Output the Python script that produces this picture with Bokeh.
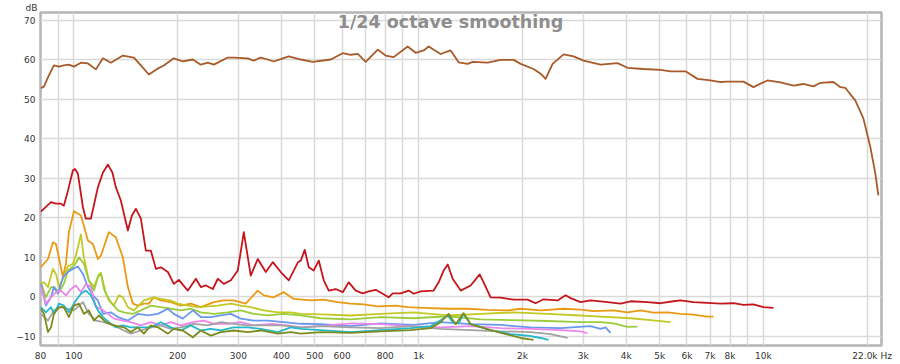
from bokeh.plotting import figure
from bokeh.models import FixedTicker, Label
from bokeh.embed import file_html
from bokeh.resources import INLINE

# ---------------- data (Hz, dB) ----------------
fund_hz = [80.2, 81.9, 84.6, 87.5, 90.5, 93.5, 96.7, 100, 104.8, 109.8, 115.8, 121.4, 128, 138.7, 149.3,
           156.4, 165, 175.2, 182.3, 194.9, 207, 221.3, 233.4, 244.6, 254.6, 279.5, 290.9, 319.4, 332.4,
           348.3, 365, 380, 403.5, 420, 455, 493, 556, 602, 635, 666, 702, 761, 802, 846, 929, 980,
           1034, 1069, 1158, 1238, 1306, 1387, 1434, 1585, 1729, 1886, 1976, 2154, 2258, 2334, 2446,
           2632, 2814, 3008, 3370, 3774, 4035, 4489, 5029, 5376, 5942, 6437, 7020, 7506, 7864, 8750,
           9354, 10270, 11202, 12218, 13058, 13960, 14631, 15955, 16720, 17288, 18479, 19493, 20424,
           21115, 21544]
fund_db = [52.7, 53.2, 56.0, 58.5, 58.2, 58.5, 58.7, 58.2, 59.2, 59.0, 57.5, 60.3, 59.2, 61.0, 60.5,
           58.5, 56.2, 57.7, 58.5, 60.3, 59.5, 60.0, 58.7, 59.2, 58.7, 60.5, 60.5, 60.3, 59.7,
           60.5, 60.0, 59.5, 60.3, 60.8, 60.0, 59.4, 60.0, 61.6, 61.2, 61.4, 59.4, 62.5, 61.0, 60.6, 63.3, 61.7,
           62.3, 63.3, 61.4, 62.3, 59.3, 58.9, 59.4, 59.2, 59.9, 59.9, 58.9, 57.6, 56.4, 55.1, 58.9,
           61.3, 60.8, 59.7, 58.7, 59.1, 57.9, 57.6, 57.4, 57.0, 57.0, 55.1, 54.7, 54.3, 54.4, 54.4,
           53.0, 54.7, 54.2, 53.4, 53.8, 53.2, 54.1, 54.3, 53.0, 52.8, 49.6, 45.1, 37.8,
           31.1, 25.6]

h2_hz = [80.2, 85.8, 88.7, 91.7, 93.5, 96.1, 99.3, 100.7, 102.7, 106.2, 108.3, 112, 117.4, 121.4, 125.5,
         129.3, 132.3, 136.8, 143.4, 147.3, 151.3, 156.4, 161.7, 167.2, 172.9, 178.7, 187.3, 194.9, 201.5,
         214, 225.8, 233.4, 241.4, 252.9, 261.5, 272.2, 285.2, 298.8, 311, 325.8, 341.4, 360.2, 377.4,
         398.1, 420, 446, 455, 467.3, 480, 496.3, 513.1, 530.5, 548.5, 574.7, 602.3, 626.8, 656.8,
         688.2, 716.3, 750.6, 786.4, 818.4, 840.6, 886.7, 935.4, 967.2, 1013, 1105, 1143, 1182, 1214,
         1255, 1324, 1415, 1503, 1543, 1617, 1729, 1886, 2070, 2183, 2303, 2529, 2668, 2758, 2948,
         3152, 3531, 3851, 4116, 4611, 5029, 5485, 5747, 6268, 6881, 7506, 8185, 8750, 9354, 10000, 10690]
h2_db = [21.5, 23.9, 23.5, 23.5, 23.0, 26.8, 31.9, 32.3, 31.1, 22.6, 19.7, 19.7, 27.7, 31.4, 33.4,
         31.4, 27.7, 24.3, 16.7, 20.5, 22.2, 19.7, 11.6, 11.6, 7.0, 7.4, 6.2, 3.2, 4.2,
         1.5, 4.5, 2.4, 2.8, 1.9, 4.5, 3.2, 4.1, 6.6, 16.3, 5.3, 9.5, 6.2, 8.7,
         6.2, 4.1, 8.6, 9.1, 11.8, 7.4, 6.6, 9.1, 4.1, 1.5, 1.9, 1.1, 3.6, 1.5,
         0.8, 1.3, 1.7, 0.7, -0.2, 0.8, 0.8, 1.5, 0.7, 1.3, 1.5, 3.6, 6.6, 8.1,
         4.5, 1.5, 2.8, 5.6, 3.6, -0.2, -0.3, -0.8, -0.8, -1.7, -0.7, -1.0, 0.3, -0.4, -1.4,
         -1.0, -1.4, -1.8, -1.2, -1.4, -1.7, -1.2, -1.0, -1.4, -1.6, -1.8, -1.7, -2.1, -2.0, -2.7, -2.9]

h3_hz = [80.2, 84.1, 86.9, 88.7, 91.7, 92.9, 94.8, 96.7, 100, 104.8, 109.8, 113.5, 117.4, 119.8, 126.3,
         132.3, 138.7, 143.4, 148.3, 153.3, 159.6, 165, 170.6, 178.7, 191.1, 204.2, 218.4, 233.4, 254.6,
         272.2, 290.9, 315.1, 341.4, 355.4, 380, 406.2, 434.2, 486.4, 530.5, 582.5, 635.3, 692.8, 760.6,
         857.6, 929.2, 1034, 1214, 1387, 1585, 1812, 1976, 2258, 2632, 2948, 3216, 3675, 4035, 4400,
         4799, 5270, 5747, 6268, 6881, 7163]
h3_db = [7.4, 9.5, 13.7, 13.3, 7.4, 4.9, 8.3, 16.3, 21.6, 20.5, 14.2, 13.3, 9.5, 10.4, 16.3,
         15.0, 9.9, 2.4, -1.8, -2.3, -1.8, -1.8, -0.2, -1.0, -1.4, -2.3, -1.8, -2.7, -1.4,
         -1.0, -1.0, -1.8, 1.5, 0.3, -0.2, 1.1, -0.6, -1.0, -0.8, -1.4, -1.8, -2.0, -2.5,
         -2.3, -2.7, -2.9, -3.1, -3.1, -3.4, -3.5, -3.1, -3.5, -3.1, -3.3, -3.7, -3.5, -4.0, -3.5,
         -4.1, -4.0, -4.4, -4.6, -5.1, -5.1]

h4_hz = [80.2, 81.9, 84.1, 86.9, 88.7, 90.5, 92.9, 96.1, 99.3, 101.3, 104.8, 106.9, 110.5, 114.3, 118.2,
         119.8, 122.2, 126.3, 130.6, 135, 138.7, 143.4, 149.3, 159.6, 170.6, 178.7, 191.1, 200.1, 214,
         228.8, 244.6, 261.5, 285.2, 304.8, 325.8, 355.4, 390.3, 425.6, 455, 520, 635, 776, 967, 1214,
         1513, 1886, 2365, 2948, 3370, 4116, 4704, 5376]
h4_db = [3.2, 3.6, 2.4, 7.0, 5.7, 2.4, 4.5, 7.6, 8.3, 10.4, 15.7, 9.9, 4.1, 2.4, 5.7,
         5.9, 1.9, -1.0, -2.3, 0.3, -0.2, -2.7, -3.5, -1.0, -0.2, -0.6, -1.0, -1.8, -2.3,
         -2.7, -2.5, -2.3, -1.8, -2.3, -2.7, -3.5, -4.0, -4.0, -4.4, -4.5, -4.8, -4.4, -4.0, -4.8,
         -4.4, -4.0, -4.4, -4.8, -5.1, -5.5, -6.0, -6.5]

h5_hz = [80.2, 82.9, 85.8, 87.5, 90.5, 93.5, 96.1, 100, 103.4, 106.9, 110.5, 114.3, 117.4, 119.8, 123.8,
         128, 134.1, 139.6, 148.3, 156.4, 167.2, 178.7, 191.1, 204.2, 218.4, 233.4, 254.6, 279.5, 304.8,
         332.4, 365, 406.2, 455, 520, 635, 776, 967, 1214, 1513, 1886, 2365, 2948, 3370, 3675, 4035, 4313]
h5_db = [3.6, -0.2, 2.4, 2.4, 1.1, 3.2, 6.6, 7.8, 9.9, 8.3, 4.1, 1.5, 4.9, 5.9, 0.7,
         -1.4, -3.5, -4.0, -4.4, -3.5, -2.3, -2.7, -3.1, -3.5, -3.1, -4.0, -4.4, -4.0, -3.5,
         -4.4, -4.8, -4.4, -4.8, -5.5, -5.8, -5.2, -5.5, -5.0, -5.8, -6.0, -6.2, -6.5, -6.5, -6.8, -7.7, -7.6]

h6_hz = [80.2, 82.9, 85.8, 87.5, 89.9, 92.9, 96.1, 99.3, 102.7, 106.2, 109.8, 113.5, 117.4, 121.4, 128,
         134.1, 143.4, 153.3, 163.9, 175.2, 187.3, 194.9, 207, 221.3, 233.4, 249.6, 266.8, 285.2, 304.8,
         332.4, 365, 406.2, 455, 520, 635, 776, 967, 1158, 1415, 1729, 2112, 2580, 3152, 3370, 3484, 3602]
h6_db = [3.2, -2.3, -0.2, 2.4, 0.7, 4.9, 6.2, 7.0, 7.6, 5.7, 2.4, 0.3, -1.0, -4.4, -4.0,
         -5.2, -6.1, -4.4, -4.8, -4.4, -3.1, -4.4, -5.6, -3.5, -5.2, -5.2, -4.8, -4.4, -5.6,
         -6.1, -6.1, -6.5, -6.9, -7.0, -7.5, -6.8, -7.2, -6.5, -7.0, -7.2, -7.8, -8.0, -7.5, -8.2, -7.8, -9.2]

h7_hz = [80.2, 82.9, 85.8, 88.7, 91.7, 94.8, 98, 101.3, 104.8, 108.3, 112, 115.8, 119.8, 125.5, 130.6,
         138.7, 146.3, 156.4, 167.2, 178.7, 191.1, 204.2, 221.3, 238.2, 254.6, 279.5, 304.8, 332.4, 372.4,
         417.2, 455, 520, 635, 776, 948, 1158, 1415, 1729, 2112, 2580, 2948, 3089]
h7_db = [2.4, -1.8, -0.2, 1.1, 1.5, 0.3, 1.9, 2.8, 1.1, 3.2, 2.4, -2.7, -3.1, -4.4, -5.6,
         -6.1, -6.5, -7.3, -6.5, -7.3, -6.5, -7.3, -6.5, -6.1, -6.9, -6.9, -6.5, -7.3, -6.9,
         -7.3, -7.8, -7.5, -6.8, -7.0, -7.5, -7.8, -7.5, -8.0, -8.2, -8.5, -8.8, -9.3]

h8_hz = [80.2, 84.1, 87.5, 91.7, 96.1, 100, 106.2, 110.5, 115.8, 122.2, 130.6, 139.6, 146.3, 156.4, 167.2,
         178.7, 191.1, 204.2, 222.8, 244.6, 266.8, 290.9, 319.4, 355.4, 398.1, 455, 520, 635, 776, 948,
         1158, 1415, 1729, 2112, 2413, 2703]
h8_db = [-4.4, -6.1, -3.5, -2.7, -3.1, -3.5, -1.4, -4.4, -6.1, -6.5, -7.3, -8.6, -9.4, -8.6, -7.8,
         -7.3, -8.2, -7.8, -6.9, -7.3, -6.5, -6.9, -7.3, -7.3, -7.3, -7.8, -7.5, -7.8, -8.0, -7.5,
         -8.2, -8.5, -8.8, -9.0, -9.5, -10.5]

h9_hz = [80.2, 82.9, 85.8, 87.5, 90.5, 93.5, 96.7, 101.3, 104.8, 108.3, 112, 117.4, 121.4, 126.3, 132.3,
         138.7, 146.3, 156.4, 167.2, 178.7, 191.1, 204.2, 218.4, 233.4, 249.6, 266.8, 290.9, 319.4, 348.3,
         390.3, 425.6, 455, 520, 635, 776, 948, 1083, 1158, 1214, 1255, 1306, 1350, 1415, 1617, 1848,
         2112, 2258, 2381]
h9_db = [-2.7, -4.0, -2.7, -4.4, -1.8, -2.3, -4.0, -1.0, 0.7, 1.5, 0.3, -3.5, -5.2, -6.5, -7.8,
         -7.3, -7.8, -7.8, -7.8, -6.5, -7.8, -8.6, -7.3, -8.6, -8.2, -8.6, -7.8, -7.8, -8.2,
         -9.0, -7.8, -8.2, -8.5, -9.0, -8.5, -8.0, -7.5, -6.0, -4.8, -6.5, -6.8, -4.4, -7.0, -8.5, -9.5,
         -10.0, -10.5, -11.0]

h10_hz = [80.2, 81.9, 84.1, 85.8, 87.5, 90.5, 93.5, 96.7, 100, 103.4, 106.9, 110.5, 114.3, 118.2, 123.8,
          130.6, 139.6, 146.3, 153.3, 159.6, 167.2, 175.2, 187.3, 194.9, 207, 221.3, 233.4, 249.6, 266.8,
          290.9, 319.4, 348.3, 390.3, 425.6, 455, 520, 635, 776, 948, 1083, 1158, 1222, 1280, 1350, 1415,
          1617, 1788, 1976, 2154]
h10_db = [-3.1, -4.4, -9.0, -7.8, -4.4, -2.7, -2.7, -5.2, -2.3, -1.8, -4.4, -3.5, -6.1, -4.8, -6.5,
          -7.3, -7.8, -9.0, -7.8, -9.4, -7.3, -7.8, -9.4, -8.2, -8.6, -10.3, -8.6, -9.9, -9.0,
          -8.6, -9.0, -8.6, -9.4, -9.0, -9.4, -9.0, -9.2, -8.8, -8.5, -8.0, -6.5, -4.4, -7.0, -4.2, -7.0,
          -8.5, -9.5, -10.5, -11.0]

series_hz = [fund_hz, h2_hz, h3_hz, h4_hz, h5_hz, h6_hz, h7_hz, h8_hz, h9_hz, h10_hz]
series_db = [fund_db, h2_db, h3_db, h4_db, h5_db, h6_db, h7_db, h8_db, h9_db, h10_db]
series_colors = ["#a85a28", "#c4161c", "#e99a12", "#c2c824", "#9ccc3c", "#6a98ec",
                 "#ec86ec", "#a2a2a2", "#24b8c8", "#7d8a1c"]

x_start, x_end = 80, 22000
y_start, y_end = -12.4, 71.9
x_tick_values = [80, 100, 200, 300, 400, 500, 600, 800, 1000, 2000, 3000, 4000, 5000, 6000, 7000, 8000,
                 10000, 22000]
x_tick_labels = ["80", "100", "200", "300", "400", "500", "600", "800", "1k", "2k", "3k", "4k", "5k",
                 "6k", "7k", "8k", "10k", "22.0k Hz\u00a0\u00a0\u00a0"]
x_minor_values = [90, 700, 900, 9000, 20000]
y_tick_values = [-10, 0, 10, 20, 30, 40, 50, 60, 70]

title_text = "1/24 octave smoothing"
y_unit_label = "dB"

# ---------------- figure ----------------
p = figure(width=900, height=364, x_axis_type="log", x_range=(x_start, x_end), y_range=(y_start, y_end),
           output_backend="svg", toolbar_location=None,
           min_border_left=40, min_border_right=19, min_border_top=12, min_border_bottom=19)
p.background_fill_color = "white"
p.border_fill_color = "white"
p.outline_line_color = "#b4b4b4"
p.outline_line_width = 2.5

font = "DejaVu Sans"
for ax in (p.xaxis[0], p.yaxis[0]):
    ax.axis_line_color = None
    ax.major_tick_line_color = None
    ax.minor_tick_line_color = None
    ax.major_tick_out = 0
    ax.major_tick_in = 0
    ax.minor_tick_out = 0
    ax.minor_tick_in = 0
    ax.axis_label_standoff = 0
    ax.major_label_text_font = font
    ax.major_label_text_font_size = "9px"
    ax.major_label_text_color = "#333333"

p.xaxis.ticker = FixedTicker(ticks=x_tick_values, minor_ticks=x_minor_values)
p.xaxis.major_label_overrides = {v: s for v, s in zip(x_tick_values, x_tick_labels)}
p.xaxis.major_label_standoff = 5
p.yaxis.ticker = FixedTicker(ticks=y_tick_values)
p.yaxis.major_label_standoff = 5

grid_col = "#d9d9d9"
p.xgrid.grid_line_color = grid_col
p.xgrid.grid_line_width = 1.5
p.xgrid.minor_grid_line_color = grid_col
p.xgrid.minor_grid_line_width = 1.5
p.ygrid.grid_line_color = grid_col
p.ygrid.grid_line_width = 1.5

# unit label above the y axis
p.title.text = y_unit_label
p.title.align = "left"
p.title.offset = -15
p.title.standoff = 0
p.title.text_font = font
p.title.text_font_size = "9px"
p.title.text_font_style = "normal"
p.title.text_color = "#333333"

for hz, db, col in zip(series_hz, series_db, series_colors):
    p.line(hz, db, line_color=col, line_width=1.8, line_join="round")

p.add_layout(Label(x=1237, y=69.4, text=title_text, text_align="center", text_baseline="middle",
                   text_font=font, text_font_size="17.5px", text_font_style="bold",
                   text_color="#8e8e8e"))

open("out.html", "w").write(file_html(p, INLINE))
